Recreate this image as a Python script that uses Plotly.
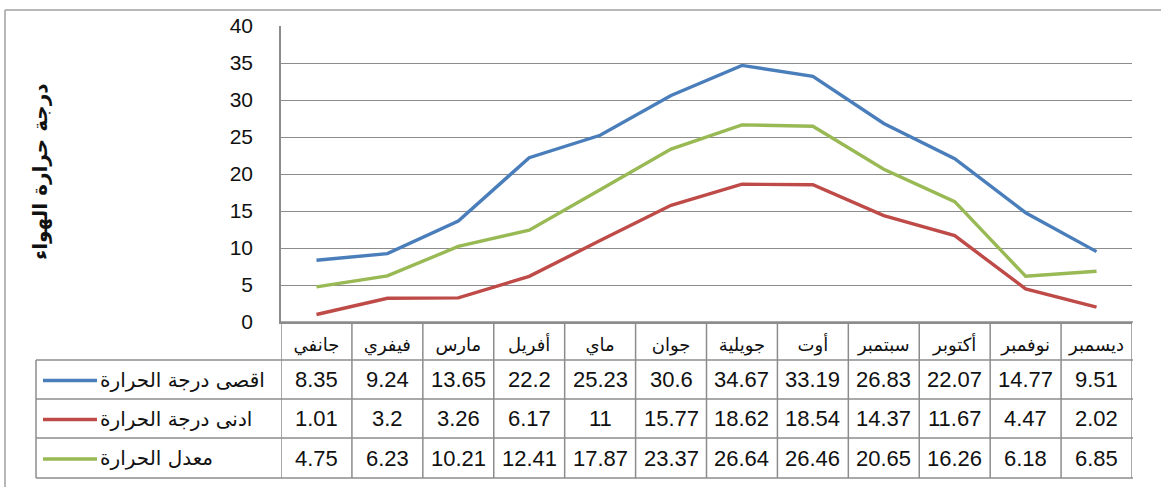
import plotly.graph_objects as go

# ---- data ----
months = ["جانفي", "فيفري", "مارس", "أفريل", "ماي", "جوان",
          "جويلية", "أوت", "سبتمبر", "أكتوبر", "نوفمبر", "ديسمبر"]
t_max = [8.35, 9.24, 13.65, 22.2, 25.23, 30.6, 34.67, 33.19, 26.83, 22.07, 14.77, 9.51]
t_min = [1.01, 3.2, 3.26, 6.17, 11, 15.77, 18.62, 18.54, 14.37, 11.67, 4.47, 2.02]
t_avg = [4.75, 6.23, 10.21, 12.41, 17.87, 23.37, 26.64, 26.46, 20.65, 16.26, 6.18, 6.85]
series_names = ["اقصى درجة الحرارة", "ادنى درجة الحرارة", "معدل الحرارة"]
series_colors = ["#4A7EBB", "#BE4B48", "#98B954"]
y_title = "درجة حرارة الهواء"
y_ticks = [0, 5, 10, 15, 20, 25, 30, 35, 40]

W, H = 1161, 487
def px_x(p):
    return p / W
def px_y(p):
    return 1 - p / H

PLOT_L, PLOT_R, PLOT_T, PLOT_B = 281, 1132, 26, 322
ROW_EDGES = [322, 360, 399, 438, 478]
LEG_L = 36
GRID = "#8c8c8c"
FONT = "Liberation Sans, Arial, DejaVu Sans, sans-serif"

fig = go.Figure()
for name, vals, col in zip(series_names, [t_max, t_min, t_avg], series_colors):
    fig.add_trace(go.Scatter(x=months, y=vals, mode="lines", name=name,
                             line=dict(color=col, width=3.4), showlegend=False))

fig.update_layout(
    width=W, height=H, autosize=False,
    margin=dict(l=0, r=0, t=0, b=0, pad=0),
    paper_bgcolor="white", plot_bgcolor="white",
    font=dict(family=FONT, color="#111111"),
    xaxis=dict(domain=[px_x(PLOT_L), px_x(PLOT_R)], type="category",
               categoryorder="array", categoryarray=months, automargin=False,
               range=[-0.5, 11.5], showgrid=False, zeroline=False,
               showline=True, linecolor=GRID, linewidth=1.5,
               ticks="outside", ticklen=6, tickcolor="rgba(0,0,0,0)",
               tickfont=dict(size=18, color="#111111",
                             family="DejaVu Sans, sans-serif")),
    yaxis=dict(domain=[px_y(PLOT_B), px_y(PLOT_T)], range=[0, 40], automargin=False,
               tickvals=y_ticks, showgrid=True, gridcolor=GRID, gridwidth=1,
               zeroline=False, showline=True, linecolor=GRID, linewidth=1.5,
               ticks="outside", ticklen=22, tickcolor="rgba(0,0,0,0)",
               tickfont=dict(size=21, color="#111111")),
)

shapes = []
# outer chart border (top and left)
shapes.append(dict(type="line", xref="paper", yref="paper",
                   x0=px_x(5), x1=1, y0=px_y(10), y1=px_y(10),
                   line=dict(color="#a0a0a0", width=1.5)))
shapes.append(dict(type="line", xref="paper", yref="paper",
                   x0=px_x(5), x1=px_x(5), y0=px_y(10), y1=0,
                   line=dict(color="#a0a0a0", width=1.5)))
# table vertical lines
for i in range(len(months) + 1):
    shapes.append(dict(type="line", xref="x", yref="paper",
                       x0=i - 0.5, x1=i - 0.5,
                       y0=px_y(ROW_EDGES[0]), y1=px_y(ROW_EDGES[-1]),
                       line=dict(color=GRID, width=1.5)))
# legend column left border
shapes.append(dict(type="line", xref="paper", yref="paper",
                   x0=px_x(LEG_L), x1=px_x(LEG_L),
                   y0=px_y(ROW_EDGES[1]), y1=px_y(ROW_EDGES[-1]),
                   line=dict(color=GRID, width=1.5)))
# table horizontal lines
for k, yy in enumerate(ROW_EDGES):
    x0 = px_x(PLOT_L) if k == 0 else px_x(LEG_L)
    shapes.append(dict(type="line", xref="paper", yref="paper",
                       x0=x0, x1=px_x(PLOT_R + 1), y0=px_y(yy), y1=px_y(yy),
                       line=dict(color=GRID, width=1.5)))

annotations = []
# y-axis title
annotations.append(dict(text=y_title, xref="paper", yref="paper",
                        x=px_x(40), y=px_y(172), textangle=-90,
                        showarrow=False, xanchor="center", yanchor="middle",
                        font=dict(size=20, family="DejaVu Sans, sans-serif",
                                  color="#111111", weight="bold")))
# table rows
for r, (name, vals, col) in enumerate(zip(series_names, [t_max, t_min, t_avg], series_colors)):
    yc = (ROW_EDGES[r + 1] + ROW_EDGES[r + 2]) / 2
    shapes.append(dict(type="line", xref="paper", yref="paper",
                       x0=px_x(43), x1=px_x(97), y0=px_y(yc + 1), y1=px_y(yc + 1),
                       line=dict(color=col, width=3.4)))
    annotations.append(dict(text=name, xref="paper", yref="paper",
                            x=px_x(98), y=px_y(yc), xanchor="left", yanchor="middle",
                            showarrow=False,
                            font=dict(size=20, family="DejaVu Sans, sans-serif",
                                      color="#111111")))
    for m, v in zip(months, vals):
        annotations.append(dict(text=f"{v:g}", xref="x", yref="paper",
                                x=m, y=px_y(yc), xanchor="center", yanchor="middle",
                                showarrow=False,
                                font=dict(size=22, color="#111111")))

fig.update_layout(shapes=shapes, annotations=annotations)

fig.write_html("out.html", config={"displayModeBar": False},
               post_script="document.body.style.margin='0';document.body.style.overflow='hidden';")
